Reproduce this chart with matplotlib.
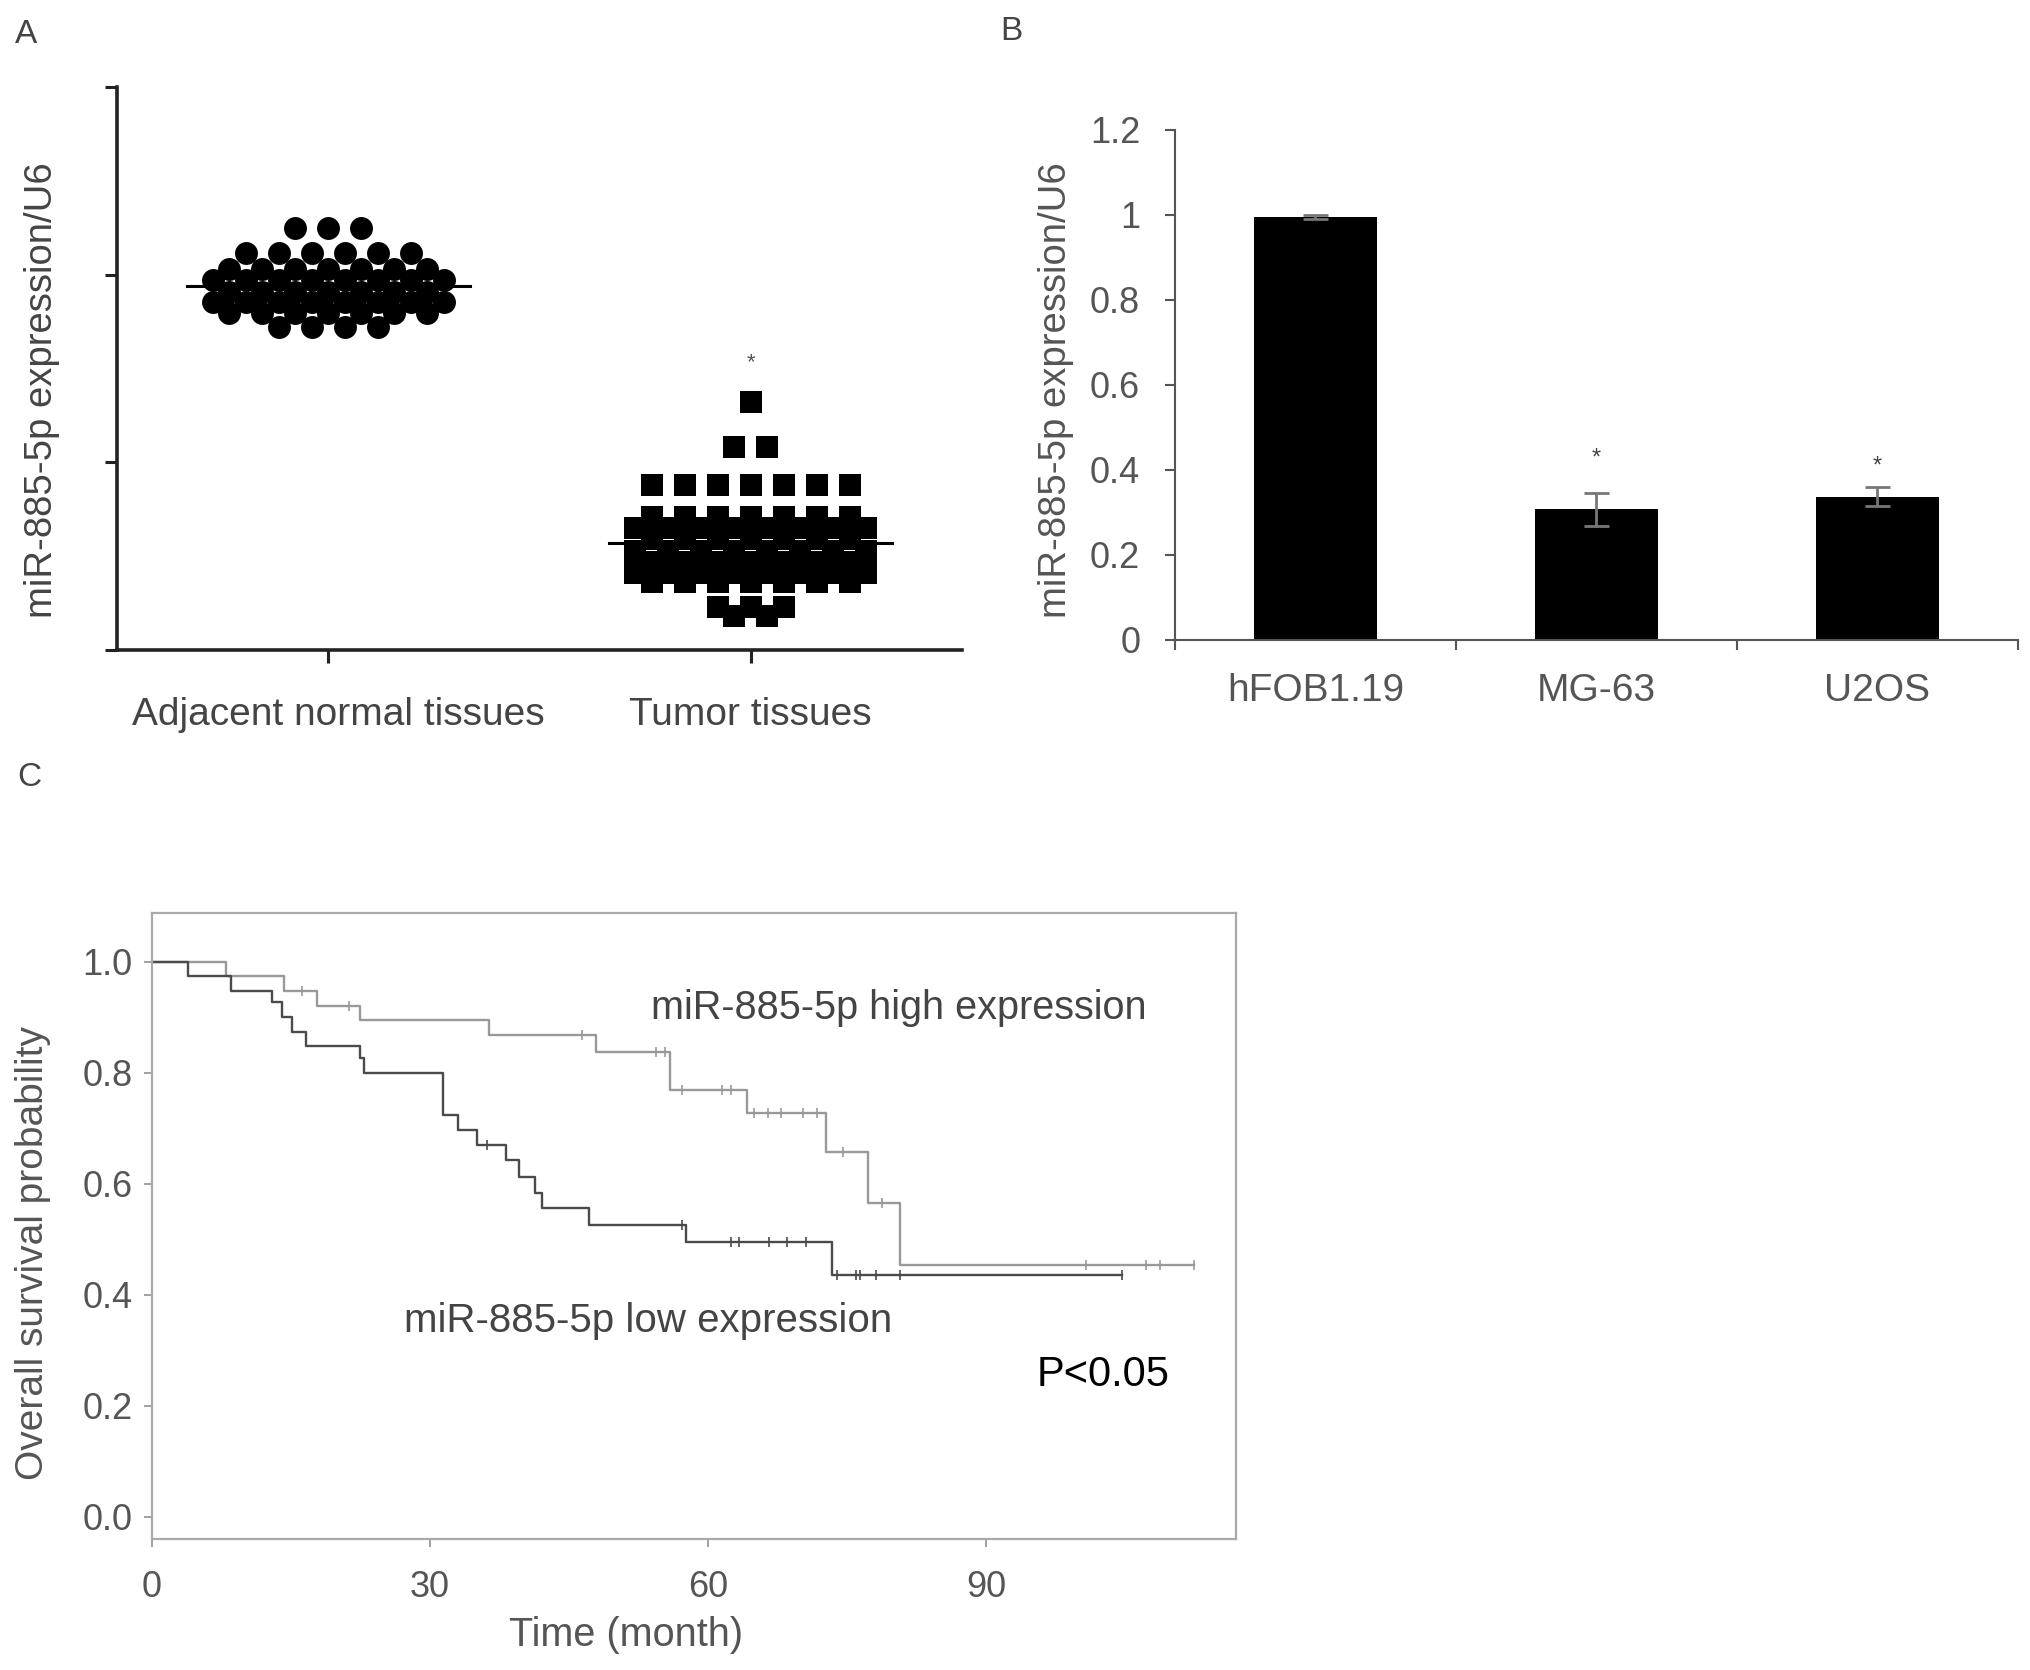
import numpy as np
import matplotlib
matplotlib.use('Agg')
import matplotlib.pyplot as plt
from matplotlib.transforms import ScaledTranslation

plt.rcParams['font.family'] = ['Liberation Sans', 'DejaVu Sans']

# ---- panel A: scatter of miR-885-5p in tissues (rows of values + how many points per row)
tissue_groups = ['Adjacent normal tissues', 'Tumor tissues']
normal_rows = [2.25, 2.115, 2.03, 1.97, 1.91, 1.855, 1.795, 1.72]
normal_counts = [3, 6, 7, 8, 7, 8, 7, 4]
tumor_rows = [1.32, 1.08, 0.88, 0.71, 0.65, 0.59, 0.53, 0.47, 0.41, 0.36, 0.23, 0.18]
tumor_counts = [1, 2, 7, 7, 8, 7, 8, 7, 8, 7, 3, 2]
tumor_star = 1.53

# ---- panel B: cell lines
cell_lines = ['hFOB1.19', 'MG-63', 'U2OS']
cell_expr = [0.995, 0.307, 0.337]
cell_err = [0.004, 0.039, 0.023]
cell_stars = [None, 0.426, 0.409]
b_yticks = [0, 0.2, 0.4, 0.6, 0.8, 1.0, 1.2]
b_yticklabels = ['0', '0.2', '0.4', '0.6', '0.8', '1', '1.2']

# ---- panel C: Kaplan-Meier curves (step times, survival after step, censor times)
hi_times = [0, 8.0, 14.3, 17.8, 22.4, 36.4, 47.9, 55.9, 64.2, 72.7, 77.2, 80.7]
hi_surv = [1.0, 0.974, 0.948, 0.921, 0.895, 0.868, 0.838, 0.769, 0.728, 0.657, 0.566, 0.454]
hi_end = 112.4
hi_censor = [16.2, 21.3, 46.4, 54.4, 55.3, 57.2, 61.5, 62.5, 65.0, 66.5, 67.9, 70.2,
             71.8, 74.5, 78.8, 100.8, 107.2, 108.8, 112.4]
lo_times = [0, 3.9, 8.5, 13.0, 14.0, 15.1, 16.6, 22.5, 22.9, 31.4, 33.0, 35.1, 38.2,
            39.6, 41.3, 42.1, 47.2, 57.6, 73.4]
lo_surv = [1.0, 0.974, 0.948, 0.928, 0.901, 0.874, 0.849, 0.826, 0.799, 0.724, 0.697,
           0.670, 0.643, 0.613, 0.583, 0.556, 0.526, 0.496, 0.436]
lo_end = 104.7
lo_censor = [36.2, 57.2, 62.5, 63.3, 66.6, 68.5, 70.6, 73.9, 76.0, 76.4, 78.1, 80.7, 104.7]
c_xticks = [0, 30, 60, 90]
c_yticks = [0.0, 0.2, 0.4, 0.6, 0.8, 1.0]


def row_offsets(values, step):
    """equal values side by side, centred on the group"""
    vals = np.asarray(values)
    offs = np.zeros(len(vals))
    for v in np.unique(vals):
        idx = np.where(vals == v)[0]
        offs[idx] = (np.arange(len(idx)) - (len(idx) - 1) / 2.0) * step
    return offs


def km_curve(ax, times, surv, end, censor, color):
    t = list(times) + [end]
    s = list(surv) + [surv[-1]]
    ax.step(t, s, where='post', color=color, lw=1.7)
    cs = [surv[np.searchsorted(times, c, side='right') - 1] for c in censor]
    ax.plot(censor, cs, ls='none', marker='|', ms=7, mew=1.2, color=color)


fig = plt.figure(figsize=(20.31, 16.70), dpi=100)
txt = '#444444'

# ================= A
axA = fig.add_axes([0.0576, 0.6108, 0.4161, 0.3371])
normal = np.repeat(normal_rows, normal_counts)
tumor = np.repeat(tumor_rows, tumor_counts)
step = 0.078
axA.plot(0 + row_offsets(normal, step), normal, 'o', color='black', ms=16.5, mew=0)
axA.plot(1 + row_offsets(tumor, step), tumor, 's', color='black', ms=15.5, mew=0)
for i, vals in enumerate([normal, tumor]):
    axA.plot([i - 0.335, i + 0.335], [np.mean(vals)] * 2, color='black', lw=2.2)
axA.text(1, tumor_star, '*', ha='center', va='center', fontsize=16, color='#555555')
axA.set_xlim(-0.5, 1.5)
axA.set_ylim(0, 3)
axA.set_yticks([0, 1, 2, 3])
axA.set_yticklabels([])
axA.set_xticks([0, 1])
axA.set_xticklabels(tissue_groups, fontsize=28, color=txt)
axA.tick_params(axis='both', length=9, width=2.2, color='#222222')
axA.tick_params(axis='x', pad=25)
# first label sits a little right of its tick in the original
lab0 = axA.get_xticklabels()[0]
lab0.set_transform(lab0.get_transform() + ScaledTranslation(0.1, 0, fig.dpi_scale_trans))
for side in ['top', 'right']:
    axA.spines[side].set_visible(False)
for side in ['left', 'bottom']:
    axA.spines[side].set_linewidth(2.6)
    axA.spines[side].set_color('#222222')

# ================= B
axB = fig.add_axes([0.5785, 0.6168, 0.4151, 0.3054])
xb = np.arange(len(cell_lines))
axB.bar(xb, cell_expr, width=0.44, color='black')
axB.errorbar(xb, cell_expr, yerr=cell_err, fmt='none', ecolor='#777777',
             elinewidth=2, capsize=9, capthick=2)
for x, s in zip(xb, cell_stars):
    if s is not None:
        axB.text(x, s, '*', ha='center', va='center', fontsize=17, color='#444444')
axB.set_xlim(-0.5, 2.5)
axB.set_ylim(0, 1.2)
axB.set_yticks(b_yticks)
axB.set_yticklabels(b_yticklabels, fontsize=26, color='#555555')
axB.set_xticks(xb)
axB.set_xticklabels(cell_lines, fontsize=28, color='#555555')
axB.set_xticks([-0.5, 0.5, 1.5, 2.5], minor=True)
axB.tick_params(axis='x', which='major', length=0, pad=24)
axB.tick_params(axis='x', which='minor', length=7, width=1.5, color='#555555')
axB.tick_params(axis='y', length=7, width=1.5, color='#555555', pad=18)
for side in ['top', 'right']:
    axB.spines[side].set_visible(False)
for side in ['left', 'bottom']:
    axB.spines[side].set_linewidth(1.5)
    axB.spines[side].set_color('#555555')

# ================= C
axC = fig.add_axes([0.0748, 0.0784, 0.5340, 0.3749])
km_curve(axC, hi_times, hi_surv, hi_end, hi_censor, '#999999')
km_curve(axC, lo_times, lo_surv, lo_end, lo_censor, '#4a4a4a')
axC.text(80.6, 0.917, 'miR-885-5p high expression', ha='center', va='center',
         fontsize=28.5, color='#444444')
axC.text(53.5, 0.353, 'miR-885-5p low expression', ha='center', va='center',
         fontsize=29, color='#444444')
axC.text(102.6, 0.255, 'P<0.05', ha='center', va='center', fontsize=30, color='black')
axC.set_xlim(0, 117)
axC.set_ylim(-0.04, 1.088)
axC.set_xticks(c_xticks)
axC.set_xticklabels([str(t) for t in c_xticks], fontsize=26, color='#555555')
axC.set_yticks(c_yticks)
axC.set_yticklabels(['%.1f' % t for t in c_yticks], fontsize=26, color='#555555')
axC.tick_params(axis='x', length=6, width=1.3, color='#999999', pad=16)
axC.tick_params(axis='y', length=6, width=1.3, color='#999999', pad=8)
for sp in axC.spines.values():
    sp.set_color('#aaaaaa')
    sp.set_linewidth(1.6)

# ---- axis labels and panel letters
fig.text(0.0207, 0.7665, 'miR-885-5p expression/U6', rotation=90, ha='center',
         va='center', fontsize=27.5, color=txt)
fig.text(0.5200, 0.7665, 'miR-885-5p expression/U6', rotation=90, ha='center',
         va='center', fontsize=27.5, color='#555555')
fig.text(0.0162, 0.2497, 'Overall survival probability', rotation=90, ha='center',
         va='center', fontsize=28, color='#555555')
fig.text(0.3082, 0.0210, 'Time (month)', ha='center', va='center', fontsize=28.5,
         color='#555555')
fig.text(0.0128, 0.9796, 'A', ha='center', va='center', fontsize=24, color='#444444')
fig.text(0.4978, 0.9810, 'B', ha='center', va='center', fontsize=24, color='#444444')
fig.text(0.0143, 0.5344, 'C', ha='center', va='center', fontsize=24, color='#444444')

fig.savefig('out.png', dpi=100)
